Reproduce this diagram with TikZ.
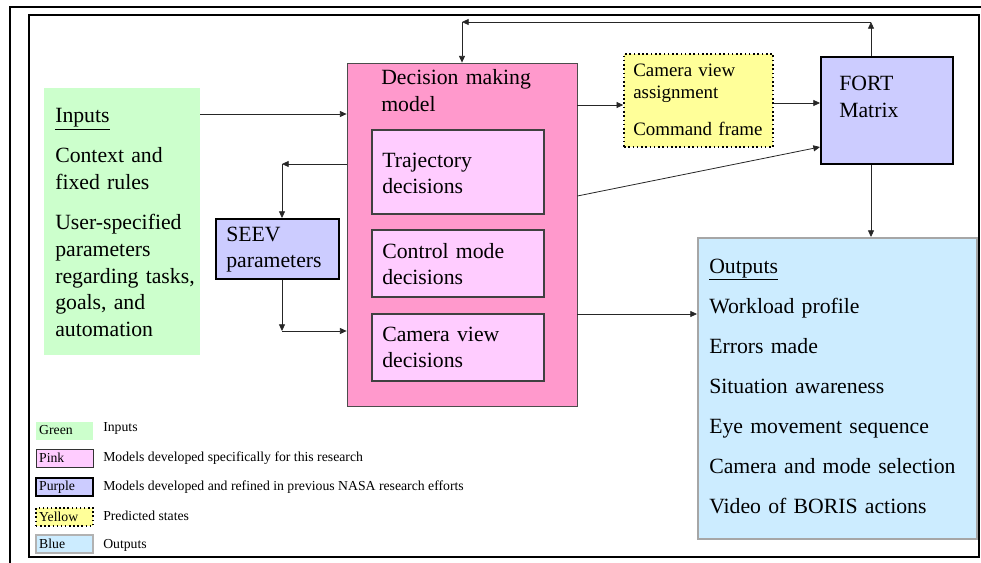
\documentclass[tikz,border=0pt]{standalone}
\usepackage{fontspec}
\setmainfont{Liberation Serif}
\usetikzlibrary{arrows.meta}

\definecolor{ingreen}{HTML}{CCFFCC}
\definecolor{dmpink}{HTML}{FF99CC}
\definecolor{subpink}{HTML}{FFCCFF}
\definecolor{seevpurple}{HTML}{CCCCFF}
\definecolor{predyellow}{HTML}{FFFF99}
\definecolor{outblue}{HTML}{CCECFF}

\newcommand{\bigfont}{\fontsize{16.3pt}{20pt}\selectfont}
\newcommand{\midfont}{\fontsize{14.2pt}{16pt}\selectfont}
\newcommand{\keyfont}{\fontsize{10.3pt}{12pt}\selectfont}

\begin{document}
\begin{tikzpicture}[x=0.75pt,y=-0.75pt,
  box/.style={rectangle,inner sep=0pt},
  txt/.style={anchor=base west,inner sep=0pt,align=left,text width=190pt,font=\bigfont},
  arr/.style={draw=black!85,line width=0.6pt,-{Triangle[length=5pt,width=4.5pt]}},
  keybox/.style={rectangle,minimum height=13.5pt,text width=38pt,inner xsep=2.4pt,inner ysep=0pt,align=left,font=\keyfont},
  keytxt/.style={anchor=west,inner sep=0pt,font=\keyfont}]
\useasboundingbox (0,0) rectangle (981,563);

% frames
\draw[line width=1.6pt] (985,7) -- (10,7) -- (10,566);
\draw[line width=0.8pt] (29,15) rectangle (979,557);

% boxes
\node[box,fill=ingreen,minimum width=117pt,minimum height=200.25pt] (inputs) at (122,221.5) {};
\node[box,fill=dmpink,draw=black!70,line width=0.6pt,minimum width=172.5pt,minimum height=257.25pt] (dmm) at (462,234.5) {};
\node[box,fill=subpink,draw=black!75,line width=0.8pt,minimum width=129pt,minimum height=63pt] (traj) at (458,172) {};
\node[box,fill=subpink,draw=black!75,line width=0.8pt,minimum width=129pt,minimum height=50.25pt] (ctrl) at (458,263.5) {};
\node[box,fill=subpink,draw=black!75,line width=0.8pt,minimum width=129pt,minimum height=50.25pt] (camdec) at (458,347.5) {};
\node[box,fill=seevpurple,draw=black,line width=1.5pt,minimum width=92.25pt,minimum height=45pt] (seev) at (277.5,249) {};
\node[box,fill=predyellow,draw=black,line width=1.2pt,dotted,minimum width=111.75pt,minimum height=69.75pt] (cva) at (698.5,100.5) {};
\node[box,fill=seevpurple,draw=black,line width=1.5pt,minimum width=99pt,minimum height=80.25pt] (fort) at (887,110.5) {};
\node[box,fill=outblue,draw=black!35,line width=1.5pt,minimum width=209.25pt,minimum height=225.75pt] (outputs) at (837.5,388.5) {};

% texts
\node[txt] (intxt) at (55,123) {\underline{Inputs}\\[10pt] Context and\\ fixed rules\\[10pt] User-specified\\ parameters\\ regarding tasks,\\ goals, and\\ automation};
\node[txt] (dmmtxt) at (381,85) {Decision making\\ model};
\node[txt] (trajtxt) at (382,167) {Trajectory\\ decisions};
\node[txt] (ctrltxt) at (382,258) {Control mode\\ decisions};
\node[txt] (camtxt) at (382,341) {Camera view\\ decisions};
\node[txt] (seevtxt) at (226,241) {SEEV\\ parameters};
\node[txt,font=\midfont] (cvatxt) at (633,77) {Camera view\\ assignment\\[11.75pt] Command frame};
\node[txt] (forttxt) at (839,91) {FORT\\ Matrix};
\node[txt] (outtxt) at (709,273) {\underline{Outputs}\\[10pt] Workload profile\\[10pt] Errors made\\[10pt] Situation awareness\\[10pt] Eye movement sequence\\[10pt] Camera and mode selection\\[10pt] Video of BORIS actions};

% connectors
\coordinate (seevIn) at (282,164);
\coordinate (seevOut) at (282,331);
\coordinate (fbR) at (871,22);
\coordinate (fbL) at (462,22);

\draw[arr] (inputs.east |- 0,114) -- (dmm.west |- 0,114);
\draw[arr] (dmm.west |- seevIn) -- (seevIn);
\draw[arr] (seevIn) -- (seev.north -| seevIn);
\draw[arr] (seev.south -| seevOut) -- (seevOut);
\draw[arr] (seevOut) -- (dmm.west |- seevOut);
\draw[arr] (dmm.east |- 0,105) -- (cva.west |- 0,105);
\draw[arr] (cva.east |- 0,103) -- (fort.west |- 0,103);
\draw[arr] (dmm.east |- 0,196) -- (fort.west |- 0,147);
\draw[arr] (fort.south -| fbR) -- (outputs.north -| fbR);
\draw[arr] (dmm.east |- 0,314) -- (outputs.west |- 0,314);
\draw[arr] (fort.north -| fbR) -- (fbR);
\draw[arr] (fbR) -- (fbL);
\draw[arr] (fbL) -- (dmm.north -| fbL);

% legend
\node[keybox,fill=ingreen] (kgreen) at (64.5,430.5) {Green};
\node[keybox,fill=subpink,draw=black!80,line width=0.6pt] (kpink) at (64.5,458) {Pink};
\node[keybox,fill=seevpurple,draw=black,line width=1.3pt] (kpurple) at (64.5,487) {Purple};
\node[keybox,fill=predyellow,draw=black,line width=1.1pt,dotted] (kyellow) at (64.5,517) {Yellow};
\node[keybox,fill=outblue,draw=black!30,line width=1.3pt] (kblue) at (64.5,544) {Blue};
\node[keytxt] (kgreentxt) at (103,428) {Inputs};
\node[keytxt] (kpinktxt) at (103,458) {Models developed specifically for this research};
\node[keytxt] (kpurpletxt) at (103,487) {Models developed and refined in previous NASA research efforts};
\node[keytxt] (kyellowtxt) at (103,516) {Predicted states};
\node[keytxt] (kbluetxt) at (103,545) {Outputs};
\end{tikzpicture}
\end{document}
